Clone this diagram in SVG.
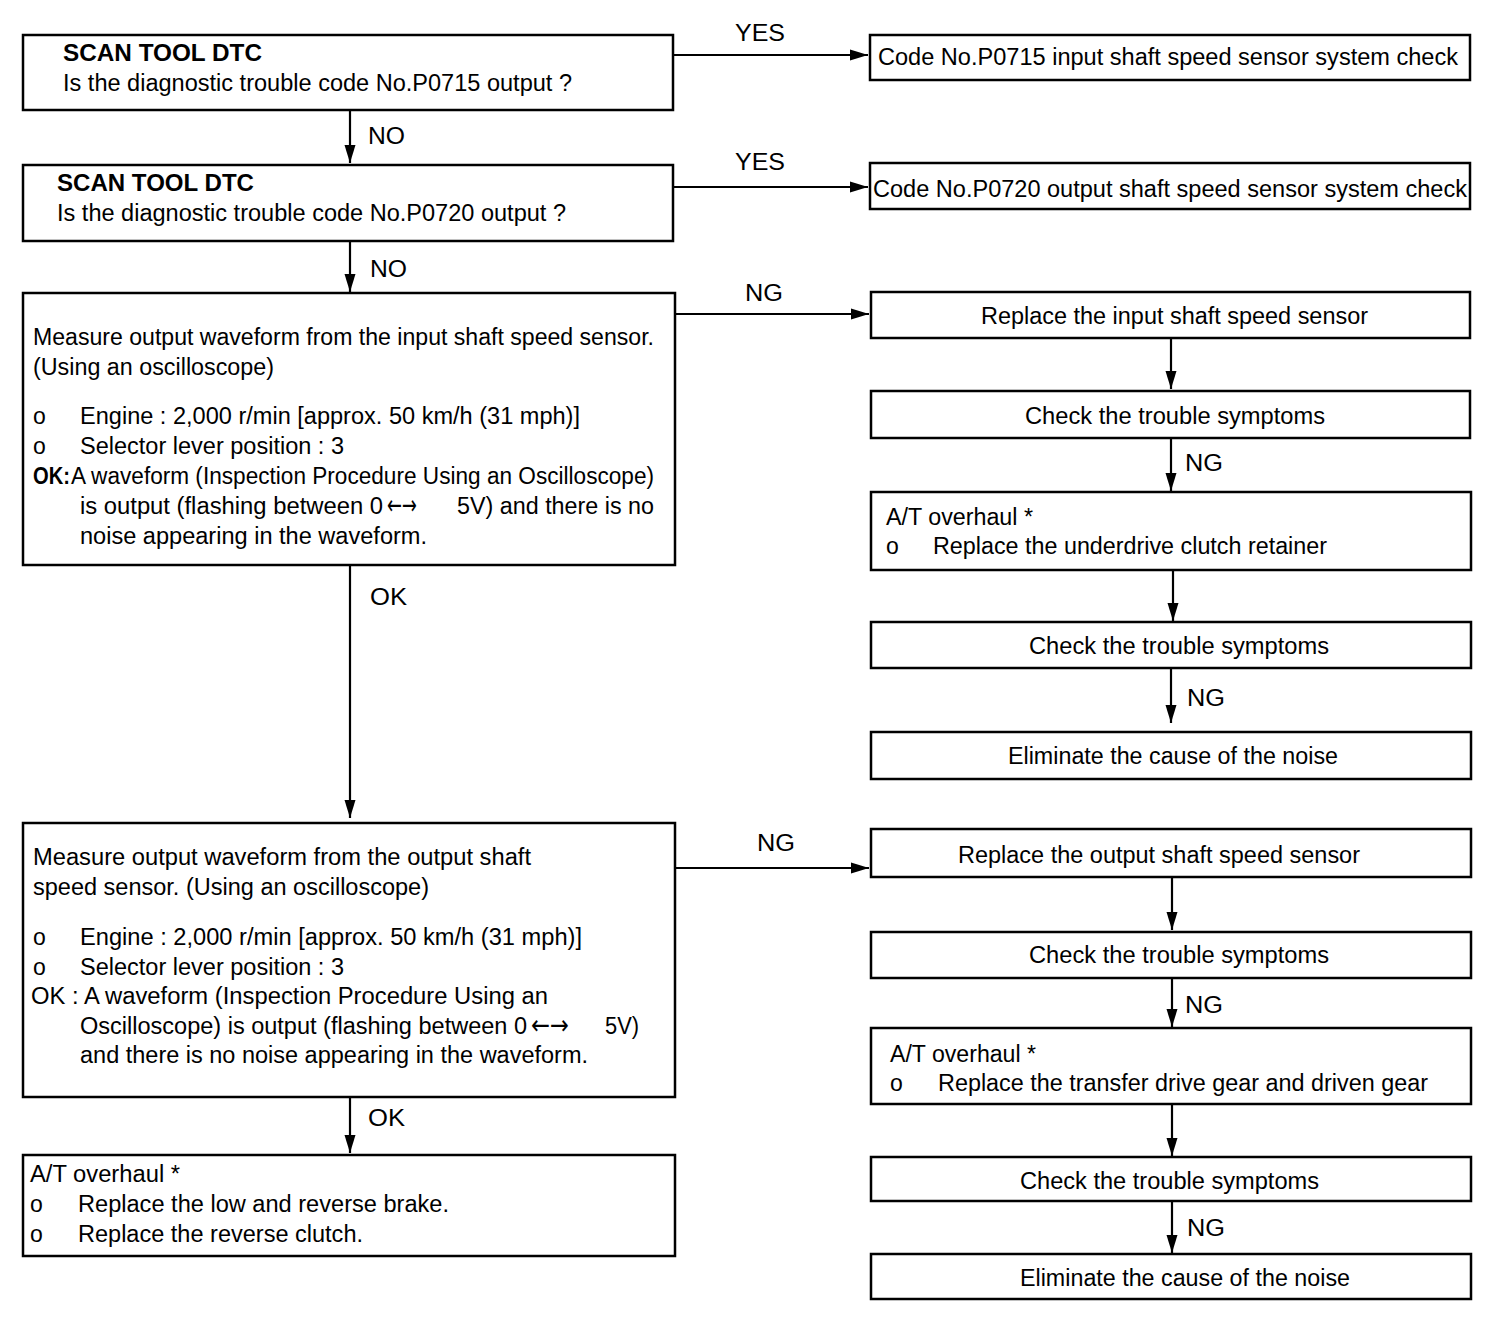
<svg xmlns="http://www.w3.org/2000/svg" width="1504" height="1318" viewBox="0 0 1504 1318">
<style>
.box{fill:#fff;stroke:#000;stroke-width:2.5}
.ln{fill:none;stroke:#000;stroke-width:2.2}
text{font-family:"Liberation Sans",Arial,sans-serif;font-size:23px;fill:#000}
.b{font-weight:bold}
.ar{font-family:"DejaVu Sans",sans-serif;font-size:27px}
</style>
<defs>
<marker id="ah" markerUnits="userSpaceOnUse" markerWidth="20" markerHeight="12" refX="18" refY="6" orient="auto">
<path d="M0,0.5 L18,6 L0,11.5 Z" fill="#000"/>
</marker>
</defs>
<rect width="1504" height="1318" fill="#fff"/>
<g id="connectors">
<line class="ln" x1="350" y1="110" x2="350" y2="163" marker-end="url(#ah)"/>
<line class="ln" x1="350" y1="241" x2="350" y2="292" marker-end="url(#ah)"/>
<line class="ln" x1="350" y1="565" x2="350" y2="818" marker-end="url(#ah)"/>
<line class="ln" x1="350" y1="1097" x2="350" y2="1153" marker-end="url(#ah)"/>
<line class="ln" x1="673" y1="55" x2="868" y2="55" marker-end="url(#ah)"/>
<line class="ln" x1="673" y1="187" x2="868" y2="187" marker-end="url(#ah)"/>
<line class="ln" x1="675" y1="314" x2="869" y2="314" marker-end="url(#ah)"/>
<line class="ln" x1="675" y1="868" x2="869" y2="868" marker-end="url(#ah)"/>
<line class="ln" x1="1171" y1="338" x2="1171" y2="389" marker-end="url(#ah)"/>
<line class="ln" x1="1171" y1="438" x2="1171" y2="491" marker-end="url(#ah)"/>
<line class="ln" x1="1173" y1="570" x2="1173" y2="621" marker-end="url(#ah)"/>
<line class="ln" x1="1171" y1="668" x2="1171" y2="723" marker-end="url(#ah)"/>
<line class="ln" x1="1172" y1="877" x2="1172" y2="930" marker-end="url(#ah)"/>
<line class="ln" x1="1172" y1="978" x2="1172" y2="1027" marker-end="url(#ah)"/>
<line class="ln" x1="1172" y1="1104" x2="1172" y2="1156" marker-end="url(#ah)"/>
<line class="ln" x1="1172" y1="1201" x2="1172" y2="1253" marker-end="url(#ah)"/>
<text x="368" y="144" textLength="37" lengthAdjust="spacingAndGlyphs">NO</text>
<text x="370" y="277" textLength="37" lengthAdjust="spacingAndGlyphs">NO</text>
<text x="370" y="605" textLength="37" lengthAdjust="spacingAndGlyphs">OK</text>
<text x="368" y="1126" textLength="37" lengthAdjust="spacingAndGlyphs">OK</text>
<text x="735" y="41" textLength="50" lengthAdjust="spacingAndGlyphs">YES</text>
<text x="735" y="170" textLength="50" lengthAdjust="spacingAndGlyphs">YES</text>
<text x="745" y="301" textLength="38" lengthAdjust="spacingAndGlyphs">NG</text>
<text x="757" y="851" textLength="38" lengthAdjust="spacingAndGlyphs">NG</text>
<text x="1185" y="471" textLength="38" lengthAdjust="spacingAndGlyphs">NG</text>
<text x="1187" y="706" textLength="38" lengthAdjust="spacingAndGlyphs">NG</text>
<text x="1185" y="1013" textLength="38" lengthAdjust="spacingAndGlyphs">NG</text>
<text x="1187" y="1236" textLength="38" lengthAdjust="spacingAndGlyphs">NG</text>
</g>
<g id="n1">
<rect class="box" x="23" y="35" width="650" height="75"/>
<text class="b" x="63" y="61" textLength="199" lengthAdjust="spacingAndGlyphs">SCAN TOOL DTC</text>
<text x="63" y="91" textLength="509" lengthAdjust="spacingAndGlyphs">Is the diagnostic trouble code No.P0715 output ?</text>
</g>
<g id="n2">
<rect class="box" x="23" y="165" width="650" height="76"/>
<text class="b" x="57" y="191" textLength="197" lengthAdjust="spacingAndGlyphs">SCAN TOOL DTC</text>
<text x="57" y="221" textLength="509" lengthAdjust="spacingAndGlyphs">Is the diagnostic trouble code No.P0720 output ?</text>
</g>
<g id="n3">
<rect class="box" x="23" y="293" width="652" height="272"/>
<text x="33" y="345" textLength="621" lengthAdjust="spacingAndGlyphs">Measure output waveform from the input shaft speed sensor.</text>
<text x="33" y="375" textLength="241" lengthAdjust="spacingAndGlyphs">(Using an oscilloscope)</text>
<text x="33" y="424">o</text>
<text x="80" y="424" textLength="500" lengthAdjust="spacingAndGlyphs">Engine : 2,000 r/min [approx. 50 km/h (31 mph)]</text>
<text x="33" y="454">o</text>
<text x="80" y="454" textLength="264" lengthAdjust="spacingAndGlyphs">Selector lever position : 3</text>
<text class="b" x="33" y="484" textLength="37" lengthAdjust="spacingAndGlyphs">OK:</text>
<text x="71" y="484" textLength="583" lengthAdjust="spacingAndGlyphs">A waveform (Inspection Procedure Using an Oscilloscope)</text>
<text x="80" y="514" textLength="303" lengthAdjust="spacingAndGlyphs">is output (flashing between 0</text>
<text class="ar" x="387" y="514" textLength="30" lengthAdjust="spacingAndGlyphs">←→</text>
<text x="457" y="514" textLength="197" lengthAdjust="spacingAndGlyphs">5V) and there is no</text>
<text x="80" y="544" textLength="347" lengthAdjust="spacingAndGlyphs">noise appearing in the waveform.</text>
</g>
<g id="n4">
<rect class="box" x="23" y="823" width="652" height="274"/>
<text x="33" y="865" textLength="498" lengthAdjust="spacingAndGlyphs">Measure output waveform from the output shaft</text>
<text x="33" y="895" textLength="396" lengthAdjust="spacingAndGlyphs">speed sensor. (Using an oscilloscope)</text>
<text x="33" y="945">o</text>
<text x="80" y="945" textLength="502" lengthAdjust="spacingAndGlyphs">Engine : 2,000 r/min [approx. 50 km/h (31 mph)]</text>
<text x="33" y="975">o</text>
<text x="80" y="975" textLength="264" lengthAdjust="spacingAndGlyphs">Selector lever position : 3</text>
<text x="31" y="1004" textLength="517" lengthAdjust="spacingAndGlyphs">OK : A waveform (Inspection Procedure Using an</text>
<text x="80" y="1034" textLength="447" lengthAdjust="spacingAndGlyphs">Oscilloscope) is output (flashing between 0</text>
<text class="ar" x="531" y="1034" textLength="38" lengthAdjust="spacingAndGlyphs">←→</text>
<text x="605" y="1034" textLength="34" lengthAdjust="spacingAndGlyphs">5V)</text>
<text x="80" y="1063" textLength="508" lengthAdjust="spacingAndGlyphs">and there is no noise appearing in the waveform.</text>
</g>
<g id="n5">
<rect class="box" x="23" y="1155" width="652" height="101"/>
<text x="30" y="1182" textLength="150" lengthAdjust="spacingAndGlyphs">A/T overhaul *</text>
<text x="30" y="1212">o</text>
<text x="78" y="1212" textLength="371" lengthAdjust="spacingAndGlyphs">Replace the low and reverse brake.</text>
<text x="30" y="1242">o</text>
<text x="78" y="1242" textLength="285" lengthAdjust="spacingAndGlyphs">Replace the reverse clutch.</text>
</g>
<g id="r0">
<rect class="box" x="870" y="35" width="600" height="45"/>
<text x="878" y="65" textLength="580" lengthAdjust="spacingAndGlyphs">Code No.P0715 input shaft speed sensor system check</text>
</g>
<g id="r0b">
<rect class="box" x="870" y="163" width="600" height="46"/>
<text x="873" y="197" textLength="594" lengthAdjust="spacingAndGlyphs">Code No.P0720 output shaft speed sensor system check</text>
</g>
<g id="r1">
<rect class="box" x="871" y="292" width="599" height="46"/>
<text x="981" y="324" textLength="387" lengthAdjust="spacingAndGlyphs">Replace the input shaft speed sensor</text>
</g>
<g id="r2">
<rect class="box" x="871" y="391" width="599" height="47"/>
<text x="1025" y="424" textLength="300" lengthAdjust="spacingAndGlyphs">Check the trouble symptoms</text>
</g>
<g id="r3">
<rect class="box" x="871" y="492" width="600" height="78"/>
<text x="886" y="525" textLength="147" lengthAdjust="spacingAndGlyphs">A/T overhaul *</text>
<text x="886" y="554">o</text>
<text x="933" y="554" textLength="394" lengthAdjust="spacingAndGlyphs">Replace the underdrive clutch retainer</text>
</g>
<g id="r4">
<rect class="box" x="871" y="622" width="600" height="46"/>
<text x="1029" y="654" textLength="300" lengthAdjust="spacingAndGlyphs">Check the trouble symptoms</text>
</g>
<g id="r5">
<rect class="box" x="871" y="732" width="600" height="47"/>
<text x="1008" y="764" textLength="330" lengthAdjust="spacingAndGlyphs">Eliminate the cause of the noise</text>
</g>
<g id="r6">
<rect class="box" x="871" y="829" width="600" height="48"/>
<text x="958" y="863" textLength="402" lengthAdjust="spacingAndGlyphs">Replace the output shaft speed sensor</text>
</g>
<g id="r7">
<rect class="box" x="871" y="932" width="600" height="46"/>
<text x="1029" y="963" textLength="300" lengthAdjust="spacingAndGlyphs">Check the trouble symptoms</text>
</g>
<g id="r8">
<rect class="box" x="871" y="1028" width="600" height="76"/>
<text x="890" y="1062" textLength="146" lengthAdjust="spacingAndGlyphs">A/T overhaul *</text>
<text x="890" y="1091">o</text>
<text x="938" y="1091" textLength="490" lengthAdjust="spacingAndGlyphs">Replace the transfer drive gear and driven gear</text>
</g>
<g id="r9">
<rect class="box" x="871" y="1157" width="600" height="44"/>
<text x="1020" y="1189" textLength="299" lengthAdjust="spacingAndGlyphs">Check the trouble symptoms</text>
</g>
<g id="r10">
<rect class="box" x="871" y="1254" width="600" height="45"/>
<text x="1020" y="1286" textLength="330" lengthAdjust="spacingAndGlyphs">Eliminate the cause of the noise</text>
</g>
</svg>
